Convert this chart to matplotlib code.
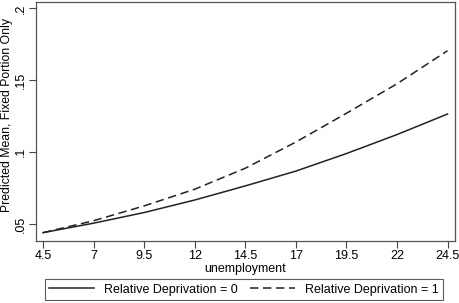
import matplotlib
matplotlib.use("Agg")
import matplotlib.pyplot as plt

# values
unemployment = [4.5, 7, 9.5, 12, 14.5, 17, 19.5, 22, 24.5]
rd0 = [0.0440, 0.0506, 0.0580, 0.0667, 0.0765, 0.0868, 0.0990, 0.1122, 0.1265]
rd1 = [0.0440, 0.0523, 0.0626, 0.0742, 0.0888, 0.1070, 0.1270, 0.1475, 0.1705]

x_ticks = [4.5, 7, 9.5, 12, 14.5, 17, 19.5, 22, 24.5]
x_labels = ["4.5", "7", "9.5", "12", "14.5", "17", "19.5", "22", "24.5"]
y_ticks = [0.05, 0.1, 0.15, 0.2]
y_labels = [".05", ".1", ".15", ".2"]

plt.rcParams["font.family"] = ["Liberation Sans", "DejaVu Sans"]

fig = plt.figure(figsize=(4.6, 3.03), dpi=100)
ax = fig.add_axes([36 / 460, 1 - 241 / 303, 419 / 460, 239 / 303])

ax.plot(unemployment, rd0, color="#222222", lw=1.1, ls="-",
        label="Relative Deprivation = 0")
ax.plot(unemployment, rd1, color="#222222", lw=1.1, ls=(0, (5.5, 3)),
        label="Relative Deprivation = 1")

ax.set_xlim(4.153, 24.87)
ax.set_ylim(0.0382, 0.2044)

ax.set_xticks(x_ticks)
ax.set_xticklabels(x_labels)
ax.set_yticks(y_ticks)
ax.set_yticklabels(y_labels, rotation=90, va="center")
ax.tick_params(labelsize=9, length=5, width=0.8, color="#444444", pad=1.5)

for s in ax.spines.values():
    s.set_color("#555555")
    s.set_linewidth(0.9)

ax.set_xlabel("unemployment", fontsize=9, labelpad=1)
ax.set_ylabel("Predicted Mean, Fixed Portion Only", fontsize=8.8, va="center")
ax.yaxis.set_label_coords(-28.5 / 419, 0.527)

leg = fig.legend(loc="lower left", ncol=2, mode="expand",
                 bbox_to_anchor=(45 / 460, 3 / 303, 398 / 460, 23 / 303),
                 bbox_transform=fig.transFigure,
                 fontsize=9, handlelength=3.6, fancybox=False,
                 borderaxespad=0, borderpad=0.35)
leg.get_frame().set_edgecolor("#333333")
leg.get_frame().set_linewidth(0.8)

fig.savefig("out.png", dpi=100, facecolor="white")
